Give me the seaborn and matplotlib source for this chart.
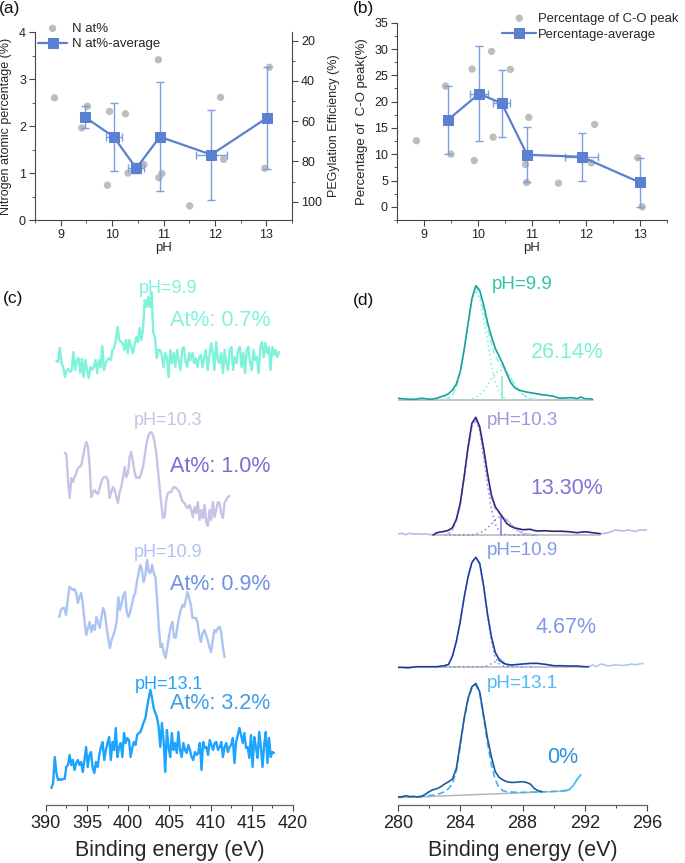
import numpy as np
import matplotlib
matplotlib.use("Agg")
import matplotlib.pyplot as plt
import seaborn as sns
from matplotlib.ticker import MultipleLocator

# ---------------- data: panel (a) ----------------
ph_pts_a = [8.88, 9.41, 9.52, 9.95, 9.91, 10.26, 10.31, 10.62, 10.90, 10.91, 10.97, 11.51, 12.11, 12.17, 12.97, 13.06]
n_pts = [2.60, 1.96, 2.42, 2.31, 0.74, 2.26, 1.00, 1.18, 3.41, 0.90, 0.99, 0.30, 2.61, 1.29, 1.10, 3.25]
ph_avg_a = [9.47, 10.03, 10.47, 10.93, 11.93, 13.01]
n_avg = [2.19, 1.77, 1.10, 1.77, 1.39, 2.17]
n_yerr = [0.23, 0.73, 0.11, 1.16, 0.96, 1.08]
ph_xerr_a = [0.0, 0.155, 0.16, 0.0, 0.30, 0.0]

# ---------------- data: panel (b) ----------------
ph_pts_b = [8.86, 9.40, 9.50, 9.89, 9.93, 10.25, 10.28, 10.60, 10.94, 10.88, 10.90, 11.49, 12.16, 12.10, 12.96, 13.04]
co_pts = [12.56, 22.95, 10.02, 26.19, 8.81, 29.55, 13.25, 26.12, 17.0, 8.05, 4.63, 4.50, 15.66, 8.37, 9.32, 0.0]
ph_avg_b = [9.44, 10.02, 10.44, 10.91, 11.92, 13.00]
co_avg = [16.49, 21.5, 19.66, 9.89, 9.51, 4.63]
co_yerr = [6.5, 9.06, 6.4, 5.2, 4.6, 4.7]
ph_xerr_b = [0.0, 0.16, 0.16, 0.0, 0.30, 0.0]

# ---------------- data: panel (c), N1s spectra ----------------
c_labels = ["pH=9.9", "pH=10.3", "pH=10.9", "pH=13.1"]
c_at = ["At%: 0.7%", "At%: 1.0%", "At%: 0.9%", "At%: 3.2%"]
c_range = [(391.3, 418.3), (392.3, 412.3), (391.65, 411.7), (390.7, 417.7)]
c1_int = [19, 18, 32, 17, 13, 3, 10, 11, 8, 10, 28, 10, 20, 22, 7, 21, 3, 20, 10, 2,
          13, 10, 13, 20, 7, 20, 13, 34, 10, 17, 20, 22, 20, 30, 32, 40, 53, 40, 38, 37,
          30, 40, 27, 40, 33, 27, 35, 43, 38, 52, 40, 52, 80, 73, 83, 73, 88, 47, 43, 22,
          30, 30, 25, 13, 27, 23, 3, 30, 17, 27, 13, 30, 20, 10, 30, 33, 18, 13, 27, 20,
          27, 17, 22, 13, 23, 25, 13, 23, 30, 10, 23, 37, 27, 10, 38, 20, 17, 27, 7, 30,
          17, 10, 30, 33, 10, 23, 17, 30, 33, 13, 27, 7, 30, 33, 17, 10, 30, 20, 23, 7,
          33, 38, 23, 37, 27, 33, 10, 33, 25, 30, 23, 28]
c2_int = [77, 76, 50, 32, 52, 48, 53, 57, 62, 63, 65, 73, 82, 88, 83, 63, 33, 38, 40, 37,
          36, 42, 48, 52, 53, 53, 50, 32, 38, 43, 40, 33, 27, 38, 43, 52, 63, 53, 57, 73,
          78, 68, 58, 52, 53, 52, 57, 63, 73, 85, 93, 97, 98, 95, 88, 77, 60, 43, 27, 12,
          13, 30, 37, 38, 38, 42, 43, 42, 40, 38, 32, 28, 27, 23, 22, 25, 20, 13, 23, 17,
          28, 10, 20, 12, 25, 8, 4, 20, 10, 28, 13, 20, 28, 27, 17, 12, 27, 30, 33, 34]
c3_int = [43, 50, 52, 52, 45, 60, 73, 72, 70, 71, 67, 57, 63, 67, 55, 38, 25, 32, 38, 28,
          35, 30, 43, 38, 32, 43, 52, 47, 33, 22, 12, 20, 25, 30, 38, 63, 50, 57, 65, 68,
          48, 43, 48, 55, 63, 67, 78, 87, 95, 90, 78, 85, 100, 88, 87, 95, 87, 83, 60, 33,
          13, 16, 7, 2, 12, 23, 33, 38, 23, 22, 33, 43, 50, 55, 53, 60, 68, 62, 55, 42,
          42, 42, 37, 25, 18, 27, 30, 25, 20, 13, 8, 20, 30, 28, 32, 33, 28, 13, 3]
c4_int = [2, 7, 33, 17, 10, 11, 10, 11, 11, 23, 25, 35, 25, 30, 20, 27, 30, 25, 28, 18,
          30, 43, 23, 35, 38, 22, 17, 28, 23, 35, 43, 48, 30, 40, 47, 53, 30, 48, 40, 62,
          33, 43, 47, 33, 57, 47, 52, 50, 33, 42, 48, 45, 55, 57, 58, 63, 68, 72, 83, 92,
          100, 92, 82, 77, 73, 63, 43, 67, 50, 18, 60, 43, 33, 57, 40, 47, 37, 58, 40, 33,
          47, 40, 37, 45, 40, 33, 30, 38, 35, 37, 47, 20, 48, 42, 43, 35, 50, 45, 40, 47,
          48, 40, 43, 48, 33, 43, 47, 38, 43, 45, 52, 27, 48, 55, 62, 55, 47, 57, 42, 43,
          32, 55, 23, 53, 43, 32, 58, 43, 23, 45, 58, 27, 52, 33, 38, 37]

# ---------------- data: panel (d), C1s spectra (0.25 eV steps) ----------------
d_labels = ["pH=9.9", "pH=10.3", "pH=10.9", "pH=13.1"]
d_pct = ["26.14%", "13.30%", "4.67%", "0%"]
d_start = [280.0, 280.0, 280.0, 280.0]
d_fit = [(280.0, 292.5), (282.25, 293.0), (280.0, 292.25), (280.0, 289.25)]
d1_int = [1.7, 1.3, 1, 0.7, 0.7, 1, 1.7, 1.3, 0.7, 1, 1.7, 3.3, 4.3, 6.3, 10, 16, 28.3,
          50.3, 76, 101.3, 114.3, 109.7, 95.3, 77.7, 63.7, 51.7, 43.7, 35.7, 26, 17.3,
          12.3, 10, 9, 8, 7.3, 6.7, 6, 5.3, 5, 4.3, 3.7, 2.3, 1.7, 2, 2.3, 2.3, 1.3, 3,
          1.3, 1.3, 0.7]
d2_int = [1, 1.7, 0.3, 1.7, 1, 1.3, 0.7, 1.3, 0.5,
          0, 2.3, 3, 3.7, 4.7, 7.3, 15.7, 31.7, 58.3, 87.7, 111.7, 117.7, 108.3, 86.7,
          61.7, 40, 28.3, 22.7, 17, 11.3, 8.7, 7, 6.3, 5.3, 5.5, 5.7, 4.5, 4, 4.2, 4.3,
          3.9, 3.7, 3.7, 3.7, 3.5, 3.3, 2.8, 2.3, 2.8, 3.3, 2.8, 2.3, 1.8, 1.3,
          1.5, 2.5, 3.5, 5, 4.5, 4, 5, 4.5, 3.5, 5, 5, 5]
d3_int = [-0.7, -0.7, -1, -1, -0.3, 0, 0, 0, 0, 0, 0, 0.5, 1, 2.3, 10.7, 25.3, 45.3,
          69.3, 89.7, 104.3, 109.3, 103.3, 81, 53, 30, 14.3, 7, 3.7, 2.3, 1.7, 2, 2.3,
          2.7, 3, 3.3, 3.3, 3.3, 2.7, 2.3, 1.7, 1, 1, 1, 0.7, 0.7, 0.7, 0.7, 0.3, 0, 0,
          1.7, 0, 2.7, 2, 0.7, 1.3, 2, 1.3, 1.3, 1.7, 2.7, 2, 2.7, 3.3]
d4_int = [0.7, 1, 2, 1, 1.3, 0.7, 1.3, 3.3, 6, 8, 9, 11, 13.7, 16, 18.7, 29.3, 54.3,
          79.3, 99.3, 111, 114.3, 106, 82.7, 59.3, 41, 26, 20.3, 17.7, 16, 15.3, 15.3,
          15.7, 16, 15.3, 13.7, 9.3, 7, 6]
d4_env = [0.7, 0.8, 1, 1, 1, 1.1, 1.3, 1.6, 2, 2.6, 3.3, 4.5, 6,
          9, 14, 27, 52, 78, 98, 110, 113, 104, 80, 55, 33,
          18, 10, 7, 6, 5.7, 5.5, 5.4, 5.3, 5.5, 5.7, 5.7, 5.7,
          5.8, 6, 6.1, 6.3, 6.5, 6.7, 7.3, 8, 12, 18, 23]
d4_base_e = [280.0, 290.84]
d4_base_i = [0.0, 6.7]
# fitted components on 283 -> 289 eV
comp_start = 283.0
d1_cc = [0, 2, 5, 13, 27, 50, 76, 100, 110, 101, 80, 58, 35, 18, 8, 3, 1, 0, 0, 0, 0, 0, 0, 0, 0]
d1_co = [0, 0, 0, 0, 0, 0, 0, 1, 2.7, 5.3, 9.2, 14.6, 20.6, 26, 29.4, 29.7, 26.9, 21.8,
         15.8, 10.2, 5.9, 3.1, 1.4, 0.6, 0.2]
d2_cc = [0, 1, 5, 14, 30, 57, 86, 108, 115, 104, 78, 50, 26, 11, 4, 1, 0, 0, 0, 0, 0, 0, 0, 0, 0]
d2_co = [0, 0, 0, 0, 0, 0, 0, 0, 1, 2, 4, 7, 11, 15, 17.8, 17.5, 15, 11, 7, 4, 2, 1, 0.5, 0, 0]
d3_cc = [1, 2.3, 10.7, 25.3, 45.3, 69.3, 89.7, 104.3, 109.3, 103, 80, 50, 25, 9, 3, 1, 0,
         0, 0, 0, 0, 0, 0, 0, 0]
d3_co = [0, 0, 0, 0, 0, 0, 0, 0, 0, 0, 0, 1, 3, 5, 6, 4.5, 2.5, 1, 0.3, 0, 0, 0, 0, 0, 0]
co_peak_e = [286.66, 286.62, None, None]
co_peak_h = [23, 18, None, None]

# ---------------- style ----------------
sns.set_style("ticks")
plt.rcParams['font.family'] = ['Liberation Sans', 'DejaVu Sans']
plt.rcParams['axes.edgecolor'] = '#444444'
plt.rcParams['axes.facecolor'] = 'none'
plt.rcParams['xtick.color'] = '#444444'
plt.rcParams['ytick.color'] = '#444444'
plt.rcParams['xtick.labelcolor'] = '#222222'
plt.rcParams['ytick.labelcolor'] = '#222222'

W, H = 685, 863
fig = plt.figure(figsize=(W / 100, H / 100), dpi=100)


def px_axes(l, t, r, b):
    ax = fig.add_axes([l / W, 1 - b / H, (r - l) / W, (b - t) / H])
    ax.patch.set_alpha(0)
    return ax


gray = '#bdbdbd'
blue = '#5b7fd1'
err_col = '#7f9ee2'


def style_small(ax):
    ax.tick_params(which='major', direction='out', length=4, width=0.8, labelsize=9, pad=2.5)
    ax.tick_params(which='minor', direction='out', length=2, width=0.6)
    for s in ax.spines.values():
        s.set_linewidth(0.8)


def scatter_panel(ax, ph_pts, vals, ph_avg, avg, yerr, xerr, lab1, lab2):
    sns.scatterplot(x=ph_pts, y=vals, color=gray, s=28, edgecolor='none', ax=ax,
                    label=lab1, zorder=2)
    ax.errorbar(ph_avg, avg, yerr=yerr, fmt='none', ecolor=err_col, elinewidth=1,
                capsize=3, capthick=1, zorder=3)
    xi = [i for i, v in enumerate(xerr) if v > 0]
    ax.errorbar([ph_avg[i] for i in xi], [avg[i] for i in xi], xerr=[xerr[i] for i in xi],
                fmt='none', ecolor=err_col, elinewidth=1, capsize=3, capthick=1, zorder=3)
    sns.lineplot(x=ph_avg, y=avg, color=blue, marker='s', markersize=6.5,
                 markeredgecolor=blue, lw=1.6, ax=ax, label=lab2, zorder=4,
                 estimator=None, sort=False)
    ax.set_xlim(8.5, 13.5)
    ax.set_xticks([9, 10, 11, 12, 13])
    ax.xaxis.set_minor_locator(MultipleLocator(0.5))
    ax.set_xlabel('pH', fontsize=9.5, labelpad=1)
    style_small(ax)


# ---------------- (a) ----------------
ax_a = px_axes(35, 32, 292, 220)
scatter_panel(ax_a, ph_pts_a, n_pts, ph_avg_a, n_avg, n_yerr, ph_xerr_a, 'N at%', 'N at%-average')
ax_a.set_ylim(0, 4)
ax_a.set_yticks([0, 1, 2, 3, 4])
ax_a.yaxis.set_minor_locator(MultipleLocator(0.5))
ax_a.set_ylabel('Nitrogen atomic percentage (%)', fontsize=9, labelpad=5)
ax_a.spines['top'].set_visible(False)
ax_a.spines['right'].set_visible(False)
ax_a.legend(loc='upper left', bbox_to_anchor=(0.012, 1.05), frameon=False, fontsize=9.5,
            handlelength=2.2, handletextpad=0.4, borderpad=0, borderaxespad=0, labelspacing=0.25)

ax_r = ax_a.twinx()
ax_r.patch.set_alpha(0)
ax_r.set_ylim(109.1, 15.7)
ax_r.set_yticks([20, 40, 60, 80, 100])
ax_r.yaxis.set_minor_locator(MultipleLocator(10))
ax_r.set_ylabel('PEGylation Efficiency (%)', fontsize=9, labelpad=4)
for s in ['top', 'left', 'bottom']:
    ax_r.spines[s].set_visible(False)
style_small(ax_r)

# ---------------- (b) ----------------
ax_b = px_axes(397, 22.7, 667, 220)
scatter_panel(ax_b, ph_pts_b, co_pts, ph_avg_b, co_avg, co_yerr, ph_xerr_b,
              'Percentage of C-O peak', 'Percentage-average')
ax_b.set_ylim(-2.5, 35)
ax_b.set_yticks(list(range(0, 36, 5)))
ax_b.yaxis.set_minor_locator(MultipleLocator(2.5))
ax_b.set_ylabel('Percentage of  C-O peak(%)', fontsize=9.5, labelpad=4)
sns.despine(ax=ax_b)
ax_b.legend(loc='upper left', bbox_to_anchor=(0.39, 1.052), frameon=False, fontsize=9.4,
            handlelength=2.6, handletextpad=0.15, borderpad=0, borderaxespad=0, labelspacing=0.3)

# ---------------- (c) ----------------
ax_c = px_axes(45.7, 250, 293, 805)
c_series = [c1_int, c2_int, c3_int, c4_int]
c_off = [425, 275, 145, 15]
c_line = ['#80f2dc', '#c6c3e6', '#adc3f3', '#1ea4ff']
c_lab_col = ['#80f2dc', '#c6c3e6', '#adc3f3', '#1ea4ff']
c_at_col = ['#80f2dc', '#7b6ad8', '#6f8fe8', '#3b9fe6']
c_lab_y = [517, 385, 253, 121]
c_at_y = [485, 339, 221, 102]
for i in range(4):
    e = np.linspace(c_range[i][0], c_range[i][1], len(c_series[i]))
    sns.lineplot(x=e, y=np.array(c_series[i]) + c_off[i], color=c_line[i], lw=1.7,
                 ax=ax_c, estimator=None)
    ax_c.text(404.9, c_lab_y[i], c_labels[i], color=c_lab_col[i], fontsize=13,
              ha='center', va='center')
    ax_c.text(411.2, c_at_y[i], c_at[i], color=c_at_col[i], fontsize=15.5,
              ha='center', va='center')
ax_c.set_xlim(390, 420)
ax_c.set_ylim(0, 555)
ax_c.set_xticks(list(range(390, 421, 5)))
ax_c.xaxis.set_minor_locator(MultipleLocator(2.5))
ax_c.set_yticks([])
ax_c.set_xlabel('Binding energy (eV)', fontsize=15.5, labelpad=6)

# ---------------- (d) ----------------
ax_d = px_axes(398, 250, 647, 805)
d_series = [d1_int, d2_int, d3_int, d4_int]
d_cc = [d1_cc, d2_cc, d3_cc, None]
d_co = [d1_co, d2_co, d3_co, None]
d_off = [405, 270, 138.3, 7.3]
d_dark = ['#1f9c9c', '#2c2878', '#1e3a9c', '#1d5a9e']
d_light = ['#8ff3df', '#bdb9e8', '#b3c7f5', '#44b3f5']
d_comp = ['#7ff0d8', '#8a80e0', '#6f8ff0', '#44b3f5']
d_lab_col = ['#2ec4a6', '#9f97e0', '#7d9ae8', '#50b8f8']
d_pct_col = ['#7ff0d8', '#7f74d8', '#7f9ae8', '#3090d8']
d_lab_y = [521, 385, 255, 122]
d_pct_y = [453, 317, 178, 48]
d_pct_x = [290.86, 290.86, 290.8, 290.6]
comp_e = comp_start + 0.25 * np.arange(len(d1_cc))
for i in range(4):
    vals = np.array(d_series[i], dtype=float)
    e = d_start[i] + 0.25 * np.arange(len(vals))
    off = d_off[i]
    lo, hi = d_fit[i]
    m = (e >= lo - 1e-6) & (e <= hi + 1e-6)
    if i < 3:
        ax_d.plot([lo, hi], [off, off], color='#b5b5b5', lw=1.1, zorder=1)
        sns.lineplot(x=e, y=vals + off, color=d_light[i], lw=1.2, ax=ax_d, estimator=None, zorder=2)
        cc = np.array(d_cc[i])
        co = np.array(d_co[i])
        ax_d.plot(comp_e, cc + off, color=d_comp[i], lw=1.1, ls=(0, (1, 2)), zorder=3)
        ax_d.plot(comp_e, co + off, color=d_comp[i], lw=1.1, ls=(0, (1, 2)), zorder=3)
        ax_d.plot(comp_e, cc + co + off, color=d_light[i], lw=1.1, ls=(0, (4, 2)), zorder=3)
        sns.lineplot(x=e[m], y=vals[m] + off, color=d_dark[i], lw=1.1, ax=ax_d,
                     estimator=None, zorder=4)
        if co_peak_e[i] is not None:
            ax_d.plot([co_peak_e[i], co_peak_e[i]], [off, off + co_peak_h[i]],
                      color=d_comp[i], lw=1.2, zorder=3)
    else:
        ax_d.plot(d4_base_e, np.array(d4_base_i) + off, color='#b5b5b5', lw=1.1, zorder=1)
        env = np.array(d4_env)
        ee = d_start[i] + 0.25 * np.arange(len(env))
        ax_d.plot(ee[:-4], env[:-4] + off, color=d_light[i], lw=1.2, ls=(0, (4, 2)), zorder=3)
        ax_d.plot(ee[-5:], env[-5:] + off, color=d_light[i], lw=1.2, zorder=3)
        sns.lineplot(x=e[m], y=vals[m] + off, color=d_dark[i], lw=1.2, ax=ax_d,
                     estimator=None, zorder=4)
    ax_d.text(287.97, d_lab_y[i], d_labels[i], color=d_lab_col[i], fontsize=13.5,
              ha='center', va='center')
    ax_d.text(d_pct_x[i], d_pct_y[i], d_pct[i], color=d_pct_col[i], fontsize=15.5,
              ha='center', va='center')
ax_d.set_xlim(280, 296)
ax_d.set_ylim(0, 555)
ax_d.set_xticks([280, 284, 288, 292, 296])
ax_d.xaxis.set_minor_locator(MultipleLocator(2))
ax_d.set_yticks([])
ax_d.set_xlabel('Binding energy (eV)', fontsize=15.5, labelpad=6)

for ax in (ax_c, ax_d):
    sns.despine(ax=ax, left=True)
    ax.spines['bottom'].set_color('#666666')
    ax.spines['bottom'].set_linewidth(0.9)
    ax.tick_params(axis='x', which='major', direction='out', length=4, width=0.8,
                   labelsize=13, pad=3)
    ax.tick_params(axis='x', which='minor', direction='out', length=2.5, width=0.7)

# panel letters
for txt, x, y in [('(a)', 10, 9), ('(b)', 363, 9), ('(c)', 13, 298), ('(d)', 363, 300)]:
    fig.text(x / W, 1 - y / H, txt, fontsize=12.5, ha='center', va='center', color='#111111')

fig.savefig('out.png', dpi=100)
